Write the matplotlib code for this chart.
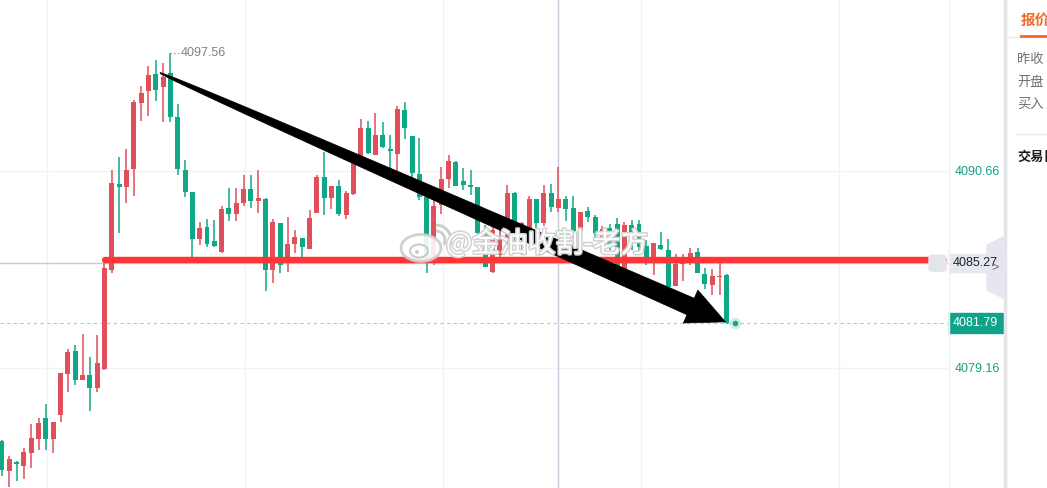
import numpy as np
import matplotlib
matplotlib.use('Agg')
import matplotlib.pyplot as plt
from matplotlib.patches import Polygon, Rectangle, FancyBboxPatch, Ellipse, Arc
from matplotlib.lines import Line2D
from matplotlib.transforms import IdentityTransform
import matplotlib.patheffects as pe

plt.rcParams['font.family'] = ['Liberation Sans', 'Noto Sans CJK SC', 'DejaVu Sans']

# candle data (1-minute bars), oldest first
opens = [4074.90, 4073.14, 4073.67, 4073.44, 4074.19, 4075.01, 4076.24, 4075.01, 4076.41, 4078.81,
         4080.15, 4078.46, 4078.75, 4077.99, 4079.10, 4084.88, 4089.89, 4089.72, 4090.77, 4094.62,
         4095.33, 4096.32, 4095.56, 4096.38, 4093.81, 4090.71, 4089.43, 4086.68, 4087.38, 4086.57,
         4085.93, 4088.49, 4088.14, 4088.78, 4089.60, 4088.90, 4089.02, 4084.88, 4087.62, 4085.29,
         4086.40, 4086.75, 4086.11, 4088.20, 4090.30, 4089.08, 4089.78, 4088.08, 4089.31, 4091.47,
         4093.17, 4091.59, 4092.76, 4091.94, 4091.65, 4094.22, 4092.70, 4090.48, 4089.14, 4085.35,
         4088.67, 4090.19, 4091.18, 4090.07, 4089.84, 4089.72, 4087.03, 4084.76, 4085.75, 4086.63,
         4089.37, 4086.63, 4087.22, 4089.02, 4087.62, 4089.37, 4088.49, 4089.02, 4088.49, 4087.15,
         4088.32, 4087.97, 4086.46, 4087.33, 4087.56, 4084.88, 4087.50, 4087.56, 4086.28, 4085.29,
         4086.34, 4086.05, 4083.95, 4085.23, 4085.29, 4085.93, 4084.65, 4084.00, 4084.47, 4084.59]
highs = [4074.95, 4074.02, 4073.73, 4074.49, 4075.89, 4076.24, 4077.06, 4076.01, 4078.87, 4080.27,
         4080.50, 4081.15, 4079.80, 4081.09, 4085.29, 4090.71, 4091.47, 4091.94, 4094.80, 4095.62,
         4096.79, 4097.14, 4096.96, 4097.56, 4094.57, 4091.30, 4089.43, 4087.68, 4087.85, 4087.79,
         4088.61, 4089.66, 4089.66, 4090.42, 4090.42, 4090.71, 4089.08, 4087.85, 4087.62, 4087.97,
         4087.22, 4086.75, 4088.38, 4090.42, 4091.76, 4089.78, 4090.13, 4089.49, 4091.76, 4093.69,
         4093.57, 4094.04, 4093.52, 4092.76, 4094.45, 4094.68, 4092.70, 4092.58, 4089.25, 4089.66,
         4090.89, 4091.59, 4091.24, 4090.83, 4090.71, 4089.72, 4087.50, 4087.45, 4087.79, 4089.84,
         4089.43, 4087.68, 4089.19, 4089.02, 4089.84, 4089.89, 4090.89, 4089.19, 4089.19, 4088.26,
         4088.55, 4088.08, 4087.45, 4087.56, 4087.91, 4087.68, 4087.79, 4087.79, 4086.63, 4086.46,
         4087.09, 4086.68, 4085.81, 4085.81, 4086.16, 4086.16, 4085.00, 4084.94, 4085.29, 4084.65]
lows = [4072.85, 4072.21, 4072.56, 4072.68, 4073.32, 4074.37, 4074.37, 4074.19, 4076.01, 4077.76,
        4078.17, 4078.46, 4076.65, 4077.76, 4079.04, 4084.71, 4087.03, 4088.78, 4089.19, 4093.57,
        4093.87, 4094.74, 4093.52, 4093.52, 4090.42, 4089.14, 4085.58, 4086.34, 4086.22, 4086.22,
        4085.87, 4087.73, 4087.73, 4088.61, 4088.49, 4088.20, 4083.66, 4084.12, 4084.71, 4084.76,
        4085.87, 4085.64, 4086.11, 4088.20, 4088.08, 4088.43, 4088.03, 4087.85, 4089.25, 4091.30,
        4091.65, 4091.59, 4092.00, 4090.54, 4090.60, 4092.52, 4090.19, 4088.96, 4084.71, 4085.17,
        4088.14, 4089.66, 4089.78, 4089.55, 4089.25, 4086.81, 4085.05, 4084.71, 4085.58, 4086.34,
        4086.40, 4085.75, 4086.86, 4087.33, 4087.45, 4088.26, 4088.26, 4087.73, 4086.75, 4086.63,
        4087.68, 4086.63, 4086.16, 4086.05, 4084.76, 4084.76, 4086.05, 4085.93, 4085.17, 4084.59,
        4086.05, 4083.89, 4083.95, 4084.24, 4085.17, 4084.71, 4083.77, 4083.42, 4083.42, 4081.75]
closes = [4073.20, 4073.84, 4073.55, 4074.25, 4075.07, 4075.95, 4075.01, 4076.01, 4078.87, 4080.09,
          4078.46, 4078.75, 4077.99, 4079.45, 4085.00, 4089.95, 4089.72, 4090.71, 4094.68, 4095.21,
          4096.26, 4095.38, 4096.14, 4093.81, 4090.77, 4089.43, 4086.68, 4087.33, 4086.40, 4086.28,
          4088.43, 4088.14, 4088.78, 4089.60, 4088.90, 4089.08, 4084.88, 4087.68, 4085.17, 4086.40,
          4086.81, 4086.22, 4087.91, 4090.30, 4089.08, 4089.78, 4088.14, 4089.37, 4091.47, 4093.17,
          4091.71, 4092.76, 4092.06, 4091.82, 4094.27, 4093.17, 4090.54, 4089.14, 4085.35, 4088.61,
          4090.19, 4091.24, 4089.78, 4089.84, 4089.72, 4087.03, 4085.05, 4087.22, 4086.86, 4089.37,
          4086.81, 4087.62, 4089.02, 4087.62, 4089.37, 4088.55, 4089.02, 4088.43, 4087.09, 4088.26,
          4087.97, 4087.03, 4087.27, 4086.28, 4085.00, 4087.50, 4086.63, 4086.22, 4085.58, 4086.46,
          4086.11, 4083.89, 4085.23, 4085.29, 4085.87, 4084.71, 4084.06, 4084.53, 4084.53, 4081.79]

# price scale labels and markers
scale_ticks = [4079.16, 4090.66]
scale_labels = ['4079.16', '4090.66']
last_price = 4081.79
cross_price = 4085.27
cross_bar = 76
high_label = '4097.56'
high_bar = 23

# hand drawn annotations
support_level = 4085.47
support_span = (14.1, 128.6)
arrow_from = (21.6, 4096.38)
arrow_to = (98.8, 4081.85)
watermark = '@金油收割-老方'

RED = '#e0505b'
GREEN = '#0fa887'
W, H = 1047, 488

fig = plt.figure(figsize=(W / 100, H / 100), dpi=100)
ax = fig.add_axes([0, 0, 948 / W, 1])
ax.set_xlim(-0.27, 129.2)
ax.set_ylim(4072.15, 4100.64)

opens = np.array(opens)
closes = np.array(closes)
x = np.arange(len(opens))
colors = np.where(closes >= opens, RED, GREEN)
body_lo = np.minimum(opens, closes)
body_h = np.maximum(np.abs(closes - opens), 0.08)

# grid / axes look
for s in ax.spines.values():
    s.set_visible(False)
ax.set_xticks([6.15, 33.2, 60.2, 87.3, 114.3])
ax.set_yticks(scale_ticks)
ax.set_yticklabels(scale_labels)
ax.yaxis.tick_right()
ax.tick_params(axis='x', length=0, labelbottom=False)
ax.tick_params(axis='y', length=0, pad=5, labelcolor='#14a085', labelsize=9)
ax.grid(True, color='#f1f2f5', linewidth=1, zorder=0)
ax.set_axisbelow(True)

# crosshair
ax.axvline(cross_bar, color='#cbc8da', lw=1, zorder=1)
ax.axhline(cross_price, color='#cbc8da', lw=1, zorder=1)
# last price line
ax.axhline(last_price, color='#96d6c6', lw=0.8, ls=(0, (3, 3)), zorder=1)

# candles
ax.vlines(x, lows, highs, colors=colors, linewidth=1.1, zorder=3)
ax.bar(x, body_h, bottom=body_lo, width=0.68, color=colors, linewidth=0, zorder=4)

# high marker
ax.plot([high_bar, high_bar + 1.3], [highs[high_bar]] * 2, ls=':', color='#a0a4ac', lw=1, zorder=5)
ax.text(high_bar + 1.45, highs[high_bar], high_label, color='#7d828c', fontsize=9,
        ha='left', va='center', zorder=5)

# last price dot
ax.scatter([len(x) + 0.1], [last_price], s=70, color=GREEN, alpha=0.2, linewidths=0, zorder=6)
ax.scatter([len(x) + 0.1], [last_price], s=16, color=GREEN, linewidths=0, zorder=6)

# bell box near the right end of support line
bx, by = ax.transData.transform((0, cross_price))
fig.patches.append(FancyBboxPatch((929 / W, (by - 8) / H), 17 / W, 16 / H,
                                  boxstyle='round,pad=0,rounding_size=0.004',
                                  transform=fig.transFigure, color='#e3e5ea', zorder=1))

# support line
ax.plot(support_span, [support_level] * 2, color='#ff3434', lw=4.6,
        solid_capstyle='round', zorder=7)

# tapered arrow, built in display coordinates
p0 = ax.transData.transform(arrow_from)
p1 = ax.transData.transform(arrow_to)
d = p1 - p0
u = d / np.hypot(*d)
n = np.array([-u[1], u[0]])
head_len, head_half = 38.0, 18.0
base = p1 - u * head_len
t = np.linspace(0, 1, 40)
hw = 0.5 + 8.5 * t ** 0.6
shaft = p0 + np.outer(t, base - p0)
left = shaft + np.outer(hw, n)
right = shaft - np.outer(hw, n)
pts = np.vstack([left, base + n * head_half, p1, base - n * head_half, right[::-1]])
ax.add_patch(Polygon(pts, closed=True, transform=IdentityTransform(),
                     facecolor='black', edgecolor='black', lw=0.5, zorder=8))

# watermark (weibo logo + handle)
def disp(px, py):
    return (px, H - py)

ax.add_patch(Ellipse(disp(421, 248), 40, 27, transform=IdentityTransform(),
                     facecolor='white', edgecolor='#cccccc', lw=2, alpha=0.9, zorder=9))
ax.add_patch(Ellipse(disp(419, 251), 18, 13, transform=IdentityTransform(),
                     facecolor='none', edgecolor='#cccccc', lw=1.5, zorder=9))
ax.add_patch(Ellipse(disp(417, 252), 4, 4, transform=IdentityTransform(),
                     facecolor='#cccccc', edgecolor='none', zorder=9))
ax.add_patch(Arc(disp(436, 240), 18, 18, theta1=-30, theta2=90, transform=IdentityTransform(),
                 edgecolor='#cccccc', lw=2, zorder=9))
ax.add_patch(Arc(disp(436, 240), 30, 30, theta1=-30, theta2=90, transform=IdentityTransform(),
                 edgecolor='#cccccc', lw=2, zorder=9))
wx, wy = disp(547, 244)
ax.text(wx, wy, watermark, transform=IdentityTransform(), fontsize=20, color='white',
        family=['Noto Sans CJK SC', 'DejaVu Sans'], ha='center', va='center', zorder=10,
        path_effects=[pe.withStroke(linewidth=2.2, foreground='#d2d2d2')])

# price axis boxes
def fig_y(price):
    return ax.transData.transform((0, price))[1] / H

cy = fig_y(cross_price)
fig.patches.append(Rectangle((949 / W, cy - 9 / H), 54 / W, 18 / H, transform=fig.transFigure,
                             color='#e6e8ef', zorder=1))
fig.text(953 / W, cy, f'{cross_price:.2f}', color='#1f2329', fontsize=9, va='center', ha='left')
ly = fig_y(last_price)
fig.patches.append(Rectangle((949 / W, ly - 10 / H), 54 / W, 20 / H, transform=fig.transFigure,
                             color='#0fa38a', zorder=1))
fig.text(953 / W, ly, f'{last_price:.2f}', color='white', fontsize=9, va='center', ha='left')

# separators
fig.add_artist(Line2D([948.5 / W] * 2, [0, 1], color='#eef0f3', lw=1))
fig.add_artist(Line2D([1005 / W] * 2, [0, 1], color='#e3e5ea', lw=2.5))

# collapse tab
tab = [(1003, 237), (987, 245), (987, 290), (1003, 298)]
fig.patches.append(Polygon([(px / W, 1 - py / H) for px, py in tab], closed=True,
                           transform=fig.transFigure, color='#e6e7ee', zorder=2))
fig.text(995 / W, 1 - 268 / H, '>', color='#6a6d75', fontsize=9, ha='center', va='center', zorder=3)

# right side panel
cjk = ['Noto Sans CJK SC', 'DejaVu Sans']
fig.text(1021 / W, 1 - 20 / H, '报价', color='#f26b2a', fontsize=10.5, fontweight='bold',
         family=cjk, va='center', ha='left')
fig.add_artist(Line2D([1007 / W, 1], [1 - 37 / H] * 2, color='#e6e8ec', lw=1))
fig.add_artist(Line2D([1021 / W, 1], [1 - 35.5 / H] * 2, color='#f26b2a', lw=2))
for label, py in [('昨收', 60), ('开盘', 82), ('买入', 104)]:
    fig.text(1017 / W, 1 - py / H, label, color='#6b6e75', fontsize=9.5, family=cjk,
             va='center', ha='left')
fig.add_artist(Line2D([1017 / W, 1], [1 - 134 / H] * 2, color='#e6e8ec', lw=1))
fig.text(1017 / W, 1 - 157 / H, '交易日', color='#1a1a1a', fontsize=9.5, fontweight='bold',
         family=cjk, va='center', ha='left')

fig.savefig('out.png', dpi=100)
